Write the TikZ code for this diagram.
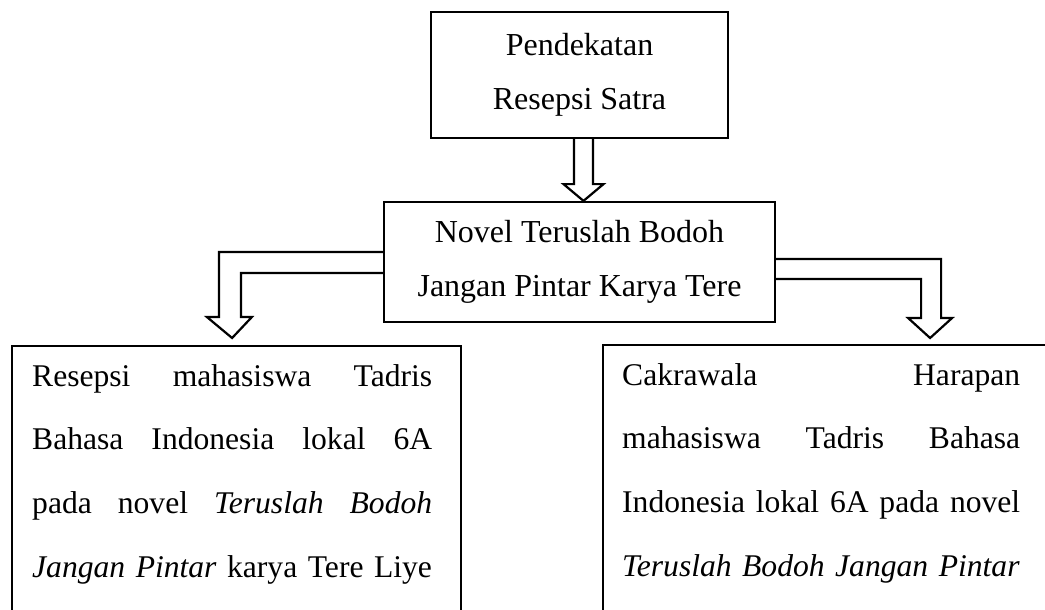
\documentclass[tikz,border=0pt]{standalone}
\usepackage{fontspec}
\setmainfont{Liberation Serif}
\usetikzlibrary{calc}
\tikzset{
  frame/.style={draw=black, line width=2.2pt, inner sep=0pt},
  hollow/.style={draw=black, line width=2.2pt, line join=miter, fill=white},
  titletext/.style={font=\fontsize{32}{54.5}\selectfont, align=center},
  bodytext/.style={font=\fontsize{31.6}{63.7}\selectfont, inner sep=0pt, text width=#1, align=left, anchor=base west},
}
\newcommand{\jline}[2]{\leavevmode\hbox to #1{#2}}
\begin{document}
\begin{tikzpicture}[x=1pt, y=-1pt]
  \clip (0,0) rectangle (1045,610);
  \useasboundingbox (0,0) rectangle (1045,610);

  % boxes
  \node[frame, titletext, minimum width=297pt, minimum height=126pt] (T) at (579.5,75) {Pendekatan\\Resepsi Satra};
  \node[frame, titletext, minimum width=391pt, minimum height=120pt] (M) at (579.5,262) {Novel Teruslah Bodoh\\Jangan Pintar Karya Tere};
  \node[frame, anchor=north west, minimum width=449pt, minimum height=320pt] (L) at (11,345) {};
  \node[frame, anchor=north west, minimum width=480pt, minimum height=320pt] (R) at (602,344) {};

  % texts of the lower boxes
  \node[bodytext=425pt] (Ltext) at ($(L.north west)+(21,41)$) {%
    \jline{400pt}{Resepsi\hfill mahasiswa\hfill Tadris}\\
    \jline{400pt}{Bahasa\hfill Indonesia\hfill lokal\hfill 6A}\\
    \jline{400pt}{pada\hfill novel\hfill \textit{Teruslah}\hfill \textit{Bodoh}}\\
    \textit{Jangan Pintar} karya Tere Liye};
  \node[bodytext=420pt] (Rtext) at ($(R.north west)+(20,41)$) {%
    \jline{398pt}{Cakrawala\hfill Harapan}\\
    \jline{398pt}{mahasiswa\hfill Tadris\hfill Bahasa}\\
    \jline{398pt}{Indonesia\hfill lokal\hfill 6A\hfill pada\hfill novel}\\
    \textit{Teruslah Bodoh Jangan Pintar}};

  % hollow arrow: top -> middle
  \coordinate (d0) at ($(T.south)+(4,0)$);
  \draw[hollow] ($(d0)+(-9.5,0)$) -- ($(d0)+(-9.5,45)$) -- ($(d0)+(-20,45)$)
    -- (d0 |- M.north) -- ($(d0)+(20,45)$) -- ($(d0)+(9.5,45)$) -- ($(d0)+(9.5,0)$);

  % hollow arrow: middle -> left box
  \draw[hollow] ($(M.west)+(0,-10)$) -- ($(M.west)+(-164,-10)$) -- ($(M.west)+(-164,55)$)
    -- ($(M.west)+(-176,55)$) -- ($(L.north)+(-4.5,-7)$) -- ($(M.west)+(-131,55)$)
    -- ($(M.west)+(-142,55)$) -- ($(M.west)+(-142,11)$) -- ($(M.west)+(0,11)$);

  % hollow arrow: middle -> right box
  \draw[hollow] ($(M.east)+(0,-3)$) -- ($(M.east)+(165,-3)$) -- ($(M.east)+(165,56)$)
    -- ($(M.east)+(176,56)$) -- ($(M.east)+(154,76)$) -- ($(M.east)+(132,56)$)
    -- ($(M.east)+(145,56)$) -- ($(M.east)+(145,17)$) -- ($(M.east)+(0,17)$);
\end{tikzpicture}
\end{document}
